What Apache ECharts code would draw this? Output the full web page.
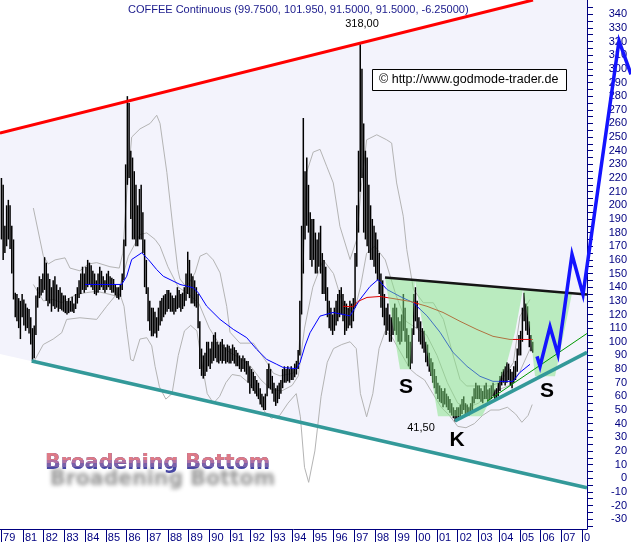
<!DOCTYPE html>
<html><head><meta charset="utf-8">
<script src="https://cdn.jsdelivr.net/npm/echarts@6/dist/echarts.min.js"></script>
<style>html,body{margin:0;padding:0;background:#fff}#c{width:631px;height:543px}</style>
</head><body><div id="c"></div>
<script>
// ---- data (cents/lb), monthly high/low from Dec 1979 ----
const firstMonth = 1979 + 11/12;
const high1980s = [220,
 215,185,200,204,200,185,175,136,135,132,130,135,
 131,128,125,124,118,110,112,134,140,148,146,150,
 162,158,150,146,140,145,148,142,138,140,136,134,
 134,130,132,130,133,128,135,140,145,150,155,150,
 155,160,158,156,152,150,145,150,155,152,148,145,
 150,152,148,147,146,142,140,140,142,150,175,230,
 280,275,240,235,225,215,200,212,215,195,175,160,
 140,130,125,125,122,118,125,130,132,134,135,138,
 138,136,134,132,134,140,138,135,136,140,150,166,
 160,150,148,145,140,135,115,95,90,92,100,100];
const low1980s = [175,
 160,165,170,175,168,150,131,118,115,110,102,118,
 112,108,110,106,98,86,88,105,125,132,134,136,
 138,130,126,128,122,126,124,125,122,124,123,122,
 121,120,121,122,122,121,124,128,132,135,138,136,
 138,140,142,140,138,135,134,136,138,140,138,136,
 138,140,138,136,136,134,132,131,133,138,145,170,
 215,220,190,175,175,170,170,175,175,165,140,135,
 115,108,104,104,106,103,108,112,115,118,120,122,
 124,122,122,120,122,124,125,122,124,126,130,135,
 132,128,128,126,125,110,80,75,73,75,78,82];
const high1990s = [
 95,100,105,107,100,98,100,102,98,96,98,97,
 95,98,96,94,92,90,88,90,88,86,86,82,
 80,78,75,72,70,66,62,60,62,80,84,80,
 75,70,66,68,70,72,80,82,80,82,80,82,
 80,84,86,94,130,185,264,225,235,215,195,190,
 190,180,175,180,185,165,160,155,140,130,125,120,
 125,130,135,138,140,135,130,128,125,130,128,132,
 165,200,240,318,300,260,240,235,215,200,190,185,
 180,175,165,150,145,135,125,128,120,118,125,128,
 125,118,115,120,135,125,110,105,100,110,135,140];
const low1990s = [
 80,84,86,88,85,84,86,84,86,84,85,84,
 84,86,84,82,82,80,78,80,78,76,70,62,
 66,64,62,60,58,54,52,50,50,60,66,65,
 62,56,53,55,58,62,66,70,70,71,70,72,
 72,74,76,80,90,120,150,175,185,180,160,155,
 160,150,150,155,150,135,135,130,118,110,108,105,
 108,112,115,118,120,115,105,108,110,112,110,115,
 125,155,180,210,220,180,175,170,165,160,160,155,
 150,145,135,125,118,112,105,108,100,100,105,108,
 105,100,98,100,108,100,88,82,80,84,105,115];
const high2000s = [
 130,118,115,110,108,100,98,92,88,85,80,75,
 70,68,66,64,66,62,60,58,55,52,50,52,
 52,54,58,60,55,54,52,55,60,66,70,68,
 68,66,64,68,70,65,66,68,70,65,66,70,
 75,78,80,82,85,84,80,78,82,86,95,105,
 108,125,136,128,126,115,105,100];
const low2000s = [
 110,100,98,95,92,85,82,78,75,70,66,62,
 58,56,55,52,54,52,50,48,46,44,41.5,43,
 44,45,47,50,47,46,46,47,50,55,58,58,
 58,56,55,58,58,56,57,58,60,57,58,60,
 64,68,70,68,70,72,68,66,70,72,78,90,
 90,100,115,108,105,96,93,92];

// Bollinger-type bands (grey)
const bandUpper = [[1981.50,198],[1981.98,163],[1982.22,157],[1982.55,160],[1983.03,161.5],[1983.27,154],[1983.75,152],[1984.15,157],[1984.56,158],[1985.20,155],[1985.65,154],[1985.82,165],[1986.01,209],[1986.25,250],[1986.65,256],[1987.14,260],[1987.46,266],[1987.62,260],[1987.95,224],[1988.24,184],[1988.48,153],[1988.58,146],[1988.9,140],[1989.31,150.5],[1989.55,162.7],[1989.87,165],[1990.19,160],[1990.52,150.5],[1990.84,126],[1991.0,107],[1991.48,99],[1992.13,99],[1992.45,92],[1992.77,85],[1993.09,77],[1993.42,75],[1994.06,77],[1994.30,87],[1994.46,126],[1994.70,224],[1995.02,239],[1995.35,241],[1995.67,228.6],[1995.99,216.4],[1996.31,184.6],[1996.80,160.3],[1997.12,174.9],[1997.36,216.4],[1997.60,248],[1998.09,251.7],[1998.57,248],[1998.81,245.6],[1999.05,216.4],[1999.37,192],[1999.54,167.6],[1999.86,138.3],[2000.34,128.6],[2000.82,128.6],[2001.31,116.4],[2001.79,89.5],[2002.11,72.5],[2002.43,67.6],[2003.56,67.6],[2004.04,70.1],[2004.69,84.7],[2005.01,118.8],[2005.49,131]];
const bandMiddle = [[1981.50,142],[1981.98,130],[1982.46,131],[1982.87,128.6],[1983.11,131],[1983.59,134.7],[1984.07,136],[1984.56,137],[1985.20,134.7],[1985.53,133.4],[1985.77,145.6],[1986.09,162.7],[1986.65,178.6],[1986.98,179.8],[1987.38,175],[1987.62,170],[1988.0,155],[1988.5,140],[1989.0,135],[1989.5,128],[1990.0,110],[1990.5,98],[1991.0,92],[1991.5,88],[1992.0,82],[1992.5,72],[1993.0,65],[1993.5,64],[1994.0,68],[1994.3,75],[1994.6,110],[1995.0,140],[1995.5,160],[1996.0,150],[1996.5,125],[1997.0,122],[1997.3,140],[1997.6,165],[1998.0,170],[1998.5,160],[1999.0,135],[1999.5,115],[2000.0,110],[2000.5,105],[2001.0,90],[2001.5,70],[2002.0,55],[2002.5,52],[2003.0,55],[2003.5,62],[2004.0,65],[2004.5,68],[2005.0,78],[2005.5,95]];
const bandLower = [[1981.50,84.7],[1981.98,98],[1982.46,102],[1982.87,106.6],[1983.11,116.4],[1983.75,117.6],[1984.56,116.4],[1985.04,126],[1985.44,133.4],[1985.69,134.7],[1985.88,126],[1986.01,109],[1986.20,87],[1986.33,86],[1986.65,102],[1986.98,103],[1987.22,97],[1987.38,82],[1987.59,67],[1987.9,58],[1988.2,62],[1988.5,90],[1988.8,108],[1989.1,112],[1989.4,108],[1989.6,88],[1989.9,62],[1990.2,55],[1990.5,60],[1990.8,70],[1991.1,76],[1991.5,75],[1991.9,70],[1992.3,62],[1992.7,48],[1993.0,44],[1993.4,46],[1993.8,55],[1994.2,62],[1994.4,45],[1994.6,8],[1994.8,-3],[1995.1,20],[1995.4,60],[1995.7,85],[1996.0,95],[1996.4,98],[1996.8,100],[1997.1,95],[1997.3,62],[1997.6,45],[1997.9,62],[1998.2,95],[1998.5,108],[1998.8,104],[1999.1,96],[1999.4,88],[1999.7,80],[2000.0,76],[2000.4,72],[2000.8,62],[2001.2,52],[2001.6,46],[2002.0,38],[2002.4,37],[2002.8,40],[2003.2,46],[2003.6,50],[2004.0,50],[2004.4,52],[2004.8,47],[2005.1,41],[2005.4,46],[2005.6,54]];

// moving averages
const maBlue = [[1983.995,142],[1985.768,142],[1986.010,148],[1986.251,160.3],[1986.734,165.2],[1987.053,160.3],[1987.459,152.9],[1987.778,148],[1988.585,142],[1989.227,139.6],[1989.469,135.9],[1989.874,126.1],[1990.517,116.4],[1991.159,109.1],[1991.807,103],[1992.290,94.4],[1992.773,87.1],[1993.256,83.5],[1993.575,81.1],[1994.222,80.3],[1994.382,84.7],[1994.623,96.9],[1994.865,106.6],[1995.348,118.8],[1995.976,121.5],[1996.797,119],[1997.280,131],[1997.763,140.5],[1998.150,145.6],[1998.585,138.3],[1999.213,133.2],[1999.841,128.8],[2000.517,119],[2001.145,107],[2001.773,92.2],[2002.449,82],[2003.077,74.7],[2003.705,71],[2004.671,71],[2005.010,77.6],[2005.493,83.5]];
const maRed = [[1996.459,126],[1996.942,125.7],[1997.184,129.6],[1997.618,132.5],[1998.246,133.2],[1998.874,131.7],[1999.696,129.6],[2000.517,126],[2001.290,121.5],[2002.111,115],[2002.932,109],[2003.705,104],[2004.527,101.7],[2005.638,101.7]];

// trend lines & pattern
const resistanceLine = [[1979.889,252.9],[2005.638,350.46]];
const supportLine = [[1981.42,85.9],[2008.246,-7.0]];
const headSupport = [[2001.87,42.0],[2008.246,92.2]];
const thinSupport = [[2003.415,56.4],[2008.246,106.1]];
const neckline = [[1998.488,147.1],[2008.246,134.7]];
const leftShoulder = [[1998.488,147.1],[1999.213,79.8],[1999.696,79.8],[1999.937,145.3]];
const headArea = [[1999.937,145.3],[2001.048,45.4],[2003.174,45.4],[2003.899,67.4],[2004.382,84.9],[2004.768,106.9],[2005.155,138.6]];
const rightShoulder = [[2005.155,138.6],[2005.493,109],[2005.734,74.7],[2006.700,74.7],[2007.522,135.6]];
const projection = [[2005.831,89.3],[2005.976,82],[2006.459,111],[2006.845,90.7],[2007.522,164],[2008.053,134.7],[2009.792,320.5],[2010.372,296]];
const formationArea = [[1979.889,252.9],[2008.246,360.3],[2008.246,-7.0],[1979.889,91.1]];

// axis labels
const yearTicks = [1979.94,1981,1982,1983,1984,1985,1986,1987,1988,1989,1990,1991,1992,1993,1994,1995,1996,1997,1998,1999,2000,2001,2002,2003,2004,2005,2006,2007,2008];
const yearLabels = ['79','81','82','83','84','85','86','87','88','89','90','91','92','93','94','95','96','97','98','99','00','01','02','03','04','05','06','07','0'];
const yLabels = [-30,-20,-10,0,10,20,30,40,50,60,70,80,90,100,110,120,130,140,150,160,170,180,190,200,210,220,230,240,250,260,270,280,290,300,310,320,330,340];
const yTicks = [-35].concat(yLabels.flatMap(v => [v, v + 5]));

const priceHigh = high1980s.concat(high1990s, high2000s);
const priceLow = low1980s.concat(low1990s, low2000s);
const bars = priceHigh.map((h, i) => [firstMonth + (i + 0.5) / 12, priceLow[i], h]);

const NAVY = '#000080';
const chart = echarts.init(document.getElementById('c'));

function polySeries(points, fill, z) {
  return {
    type: 'custom', z: z, clip: true, silent: true,
    data: [0],
    renderItem: (params, api) => ({
      type: 'polygon',
      shape: { points: points.map(p => api.coord(p)) },
      style: { fill: fill, stroke: 'none' }
    })
  };
}
function lineSeries(data, color, width, z) {
  return {
    type: 'line', data: data, symbol: 'none', z: z, silent: true,
    animation: false, lineStyle: { color: color, width: width }
  };
}

// gradient-looking title text: coloured bands clipped horizontally
const BB_TEXT = 'Broadening Bottom';
const BB_FONT = 'bold 20.5px "DejaVu Sans"';
const bbBands = [
  { y0: -14, y1: -4, color: '#de7a86' },
  { y0: -4, y1: -0.5, color: '#b070a2' },
  { y0: -0.5, y1: 3, color: '#7a62aa' }
];
function bbText(fill, clip, shadow) {
  const el = { type: 'text', x: 0, y: 0,
    style: { text: BB_TEXT, font: BB_FONT, fill: fill, verticalAlign: 'middle' } };
  if (shadow) {
    el.style.textShadowColor = 'rgba(0,0,0,0.42)';
    el.style.textShadowBlur = 4;
    el.style.textShadowOffsetX = 5;
    el.style.textShadowOffsetY = 16;
  }
  if (clip) el.clipPath = { type: 'rect', shape: { x: -5, y: clip[0], width: 280, height: clip[1] - clip[0] } };
  return el;
}

chart.setOption({
  animation: false,
  backgroundColor: '#ffffff',
  grid: { left: 0, top: 0, right: 44, bottom: 13, containLabel: false },
  xAxis: {
    type: 'value', min: 1979.889, max: 2008.246,
    axisLine: { show: true, onZero: false, lineStyle: { color: NAVY, width: 1 } },
    axisTick: { show: true, customValues: yearTicks, length: 13, inside: false, lineStyle: { color: NAVY } },
    axisLabel: {
      customValues: yearTicks, margin: 3, align: 'left', verticalAlign: 'top', padding: [0, 0, 0, 2],
      color: NAVY, fontSize: 11, fontFamily: 'Liberation Sans',
      formatter: v => { const i = yearTicks.indexOf(v); return i >= 0 ? yearLabels[i] : ''; }
    },
    splitLine: { show: false }
  },
  yAxis: {
    type: 'value', position: 'right', min: -37.2, max: 350.46,
    axisLine: { show: true, onZero: false, lineStyle: { color: NAVY, width: 1 } },
    axisTick: { show: true, customValues: yTicks, length: 6, inside: false, lineStyle: { color: NAVY } },
    axisLabel: {
      customValues: yLabels, margin: 40, align: 'right',
      color: NAVY, fontSize: 11, fontFamily: 'Liberation Sans'
    },
    splitLine: { show: false }
  },
  series: [
    polySeries(formationArea, '#f3f3fc', 1),
    lineSeries(bandUpper, '#b4b4b4', 1, 2),
    lineSeries(bandMiddle, '#b4b4b4', 1, 2),
    lineSeries(bandLower, '#b4b4b4', 1, 2),
    {
      type: 'custom', z: 3, silent: true, data: bars, encode: { x: 0, y: [1, 2] },
      renderItem: (params, api) => {
        const t = api.value(0);
        const a = api.coord([t, api.value(1)]);
        const b = api.coord([t, api.value(2)]);
        return { type: 'line', shape: { x1: a[0], y1: a[1], x2: b[0], y2: b[1] },
                 style: { stroke: '#000000', lineWidth: 1.5 } };
      }
    },
    lineSeries(maBlue, '#0000ff', 1, 4),
    lineSeries(maRed, '#dd0000', 1, 4),
    polySeries(leftShoulder, 'rgba(130,228,130,0.5)', 5),
    polySeries(headArea, 'rgba(130,228,130,0.5)', 5),
    polySeries(rightShoulder, 'rgba(130,228,130,0.5)', 5),
    lineSeries(neckline, '#151515', 2.5, 6),
    lineSeries(thinSupport, '#009900', 1, 6),
    lineSeries(headSupport, '#339999', 3.5, 6),
    lineSeries(supportLine, '#339999', 3.5, 6),
    lineSeries(resistanceLine, '#ff0000', 3, 6),
    {
      type: 'custom', z: 7, clip: false, silent: true, data: [0],
      renderItem: (params, api) => ({
        type: 'polyline',
        shape: { points: projection.map(p => api.coord(p)) },
        style: { stroke: '#1414ff', lineWidth: 3.5, fill: null, lineJoin: 'miter' }
      })
    },
    {
      type: 'custom', coordinateSystem: 'none', z: 10, silent: true, data: [0],
      renderItem: () => ({
        type: 'group', x: 45, y: 464,
        children: [bbText('#4848a4', null, true)].concat(bbBands.map(b => bbText(b.color, [b.y0, b.y1], false)))
      })
    }
  ],
  graphic: [
    { type: 'text', x: 128, y: 10, z: 10, style: { text: 'COFFEE Continuous (99.7500, 101.950, 91.5000, 91.5000, -6.25000)', fill: '#1a1a8c', font: '11px "Liberation Sans"', verticalAlign: 'middle' } },
    { type: 'text', x: 362, y: 24, z: 10, style: { text: '318,00', fill: '#000', font: '11px "Liberation Sans"', align: 'center', verticalAlign: 'middle' } },
    { type: 'rect', z: 10, shape: { x: 372.5, y: 69.5, width: 194, height: 21 }, style: { fill: '#fff', stroke: '#000', lineWidth: 1 } },
    { type: 'text', x: 379, y: 80, z: 11, style: { text: '© http://www.godmode-trader.de', fill: '#000', font: '12.5px "Liberation Sans"', verticalAlign: 'middle' } },
    { type: 'text', x: 406, y: 387, z: 10, style: { text: 'S', fill: '#000', font: 'bold 21px "Liberation Sans"', align: 'center', verticalAlign: 'middle' } },
    { type: 'text', x: 547, y: 391, z: 10, style: { text: 'S', fill: '#000', font: 'bold 21px "Liberation Sans"', align: 'center', verticalAlign: 'middle' } },
    { type: 'text', x: 457, y: 440, z: 10, style: { text: 'K', fill: '#000', font: 'bold 21px "Liberation Sans"', align: 'center', verticalAlign: 'middle' } },
    { type: 'text', x: 421, y: 428, z: 10, style: { text: '41,50', fill: '#000', font: '11px "Liberation Sans"', align: 'center', verticalAlign: 'middle' } }
  ]
});
</script></body></html>
